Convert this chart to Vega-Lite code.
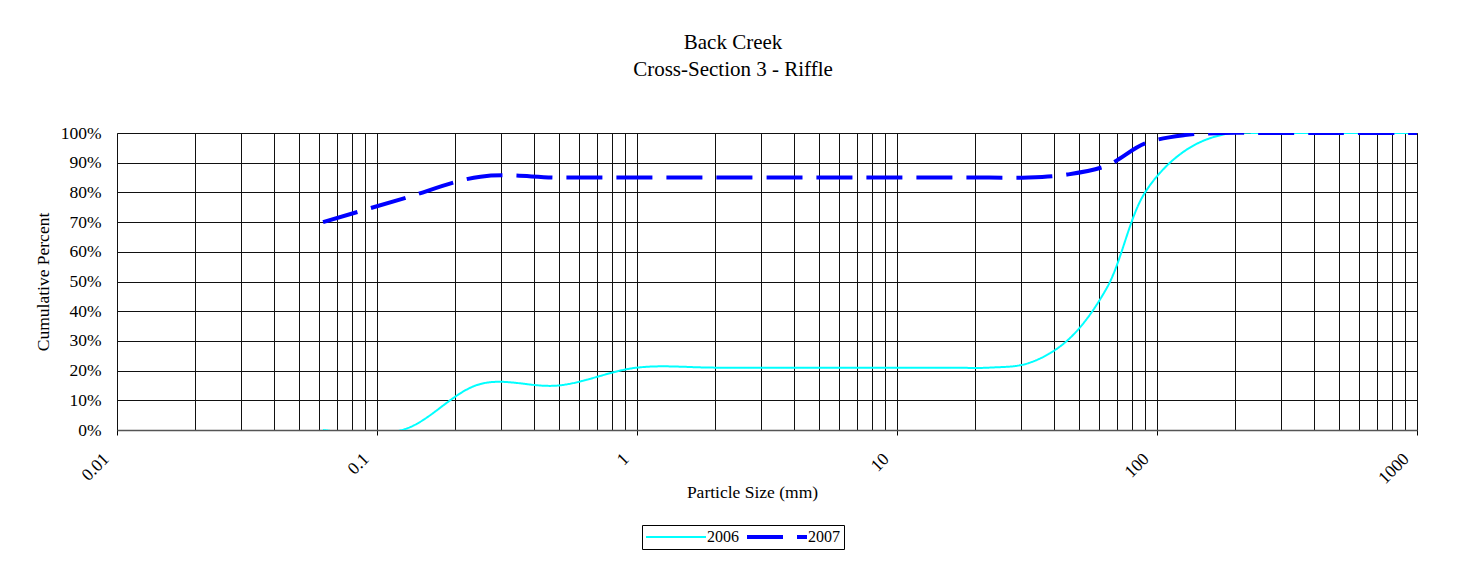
{
  "$schema": "https://vega.github.io/schema/vega-lite/v6.json",
  "width": 1300,
  "height": 297,
  "autosize": {"type": "none"},
  "padding": {"left": 117, "top": 133, "right": 42, "bottom": 139},
  "background": "white",
  "config": {
    "font": "Liberation Serif",
    "view": {"stroke": "#888888", "strokeWidth": 1}
  },
  "title": {
    "text": ["Back Creek", "Cross-Section 3 - Riffle"],
    "fontSize": 21,
    "fontWeight": "normal",
    "lineHeight": 27,
    "dx": -34,
    "offset": 44,
    "anchor": "middle",
    "color": "black",
    "font": "Liberation Serif"
  },
  "data": {
    "values": [
      {"year": "2006", "size": 0.062, "pct": 0},
      {"year": "2006", "size": 0.125, "pct": 0},
      {"year": "2006", "size": 0.25, "pct": 0.155},
      {"year": "2006", "size": 0.5, "pct": 0.15},
      {"year": "2006", "size": 1, "pct": 0.21},
      {"year": "2006", "size": 2, "pct": 0.21},
      {"year": "2006", "size": 4, "pct": 0.21},
      {"year": "2006", "size": 5.7, "pct": 0.21},
      {"year": "2006", "size": 8, "pct": 0.21},
      {"year": "2006", "size": 11.3, "pct": 0.21},
      {"year": "2006", "size": 16, "pct": 0.21},
      {"year": "2006", "size": 22.6, "pct": 0.21},
      {"year": "2006", "size": 32, "pct": 0.225},
      {"year": "2006", "size": 45, "pct": 0.30},
      {"year": "2006", "size": 64, "pct": 0.477},
      {"year": "2006", "size": 90, "pct": 0.80},
      {"year": "2006", "size": 128, "pct": 0.94},
      {"year": "2006", "size": 180, "pct": 0.995},
      {"year": "2006", "size": 256, "pct": 1},
      {"year": "2006", "size": 362, "pct": 1},
      {"year": "2006", "size": 512, "pct": 1},
      {"year": "2006", "size": 1000, "pct": 1},
      {"year": "2007", "size": 0.062, "pct": 0.70},
      {"year": "2007", "size": 0.125, "pct": 0.778},
      {"year": "2007", "size": 0.25, "pct": 0.853},
      {"year": "2007", "size": 0.5, "pct": 0.85},
      {"year": "2007", "size": 1, "pct": 0.85},
      {"year": "2007", "size": 2, "pct": 0.85},
      {"year": "2007", "size": 4, "pct": 0.85},
      {"year": "2007", "size": 5.7, "pct": 0.85},
      {"year": "2007", "size": 8, "pct": 0.85},
      {"year": "2007", "size": 11.3, "pct": 0.85},
      {"year": "2007", "size": 16, "pct": 0.85},
      {"year": "2007", "size": 22.6, "pct": 0.85},
      {"year": "2007", "size": 32, "pct": 0.85},
      {"year": "2007", "size": 45, "pct": 0.86},
      {"year": "2007", "size": 64, "pct": 0.89},
      {"year": "2007", "size": 90, "pct": 0.965},
      {"year": "2007", "size": 128, "pct": 0.993},
      {"year": "2007", "size": 180, "pct": 1},
      {"year": "2007", "size": 256, "pct": 1},
      {"year": "2007", "size": 362, "pct": 1},
      {"year": "2007", "size": 512, "pct": 1},
      {"year": "2007", "size": 1000, "pct": 1}
    ]
  },
  "mark": {"type": "line", "interpolate": "catmull-rom", "clip": true},
  "encoding": {
    "x": {
      "field": "size",
      "type": "quantitative",
      "scale": {"type": "log", "domain": [0.01, 1000], "nice": false},
      "axis": {
        "values": [0.01,0.02,0.03,0.04,0.05,0.06,0.07,0.08,0.09,0.1,0.2,0.3,0.4,0.5,0.6,0.7,0.8,0.9,1,2,3,4,5,6,7,8,9,10,20,30,40,50,60,70,80,90,100,200,300,400,500,600,700,800,900,1000],
        "labelExpr": "indexof([0.01,0.1,1,10,100,1000], datum.value) >= 0 ? format(datum.value, '~g') : ''",
        "labelOverlap": false,
        "labelAngle": -45,
        "labelAlign": "right",
        "labelBaseline": "middle",
        "labelFontSize": 17.5,
        "labelColor": "black",
        "labelPadding": 21,
        "labelOffset": -11,
        "tickSize": 5,
        "tickColor": "black",
        "tickOpacity": {"condition": {"test": "indexof([0.01,0.1,1,10,100,1000], datum.value) >= 0", "value": 1}, "value": 0},
        "grid": true,
        "gridColor": "#111111",
        "gridWidth": 1,
        "domainColor": "#555555",
        "domainWidth": 1.5,
        "title": "Particle Size (mm)",
        "titleFontSize": 17.5,
        "titleFontWeight": "normal",
        "titleColor": "black",
        "titleX": 635,
        "titleY": 62,
        "titleBaseline": "middle"
      }
    },
    "y": {
      "field": "pct",
      "type": "quantitative",
      "scale": {"domain": [0, 1], "nice": false},
      "axis": {
        "values": [0,0.1,0.2,0.3,0.4,0.5,0.6,0.7,0.8,0.9,1],
        "format": ".0%",
        "labelFontSize": 17.5,
        "labelColor": "black",
        "labelPadding": 16,
        "ticks": false,
        "domain": false,
        "grid": true,
        "gridColor": "#111111",
        "gridWidth": 1,
        "title": "Cumulative Percent",
        "titleFontSize": 17.5,
        "titleFontWeight": "normal",
        "titleColor": "black",
        "titlePadding": 8
      }
    },
    "color": {
      "field": "year",
      "type": "ordinal",
      "scale": {"domain": ["2006", "2007"], "range": ["#00FFFF", "#0000FF"]},
      "legend": {
        "orient": "none",
        "legendX": 525,
        "legendY": 392,
        "direction": "horizontal",
        "title": null,
        "strokeColor": "black",
        "fillColor": "white",
        "padding": 4,
        "symbolType": "M-6,0H6",
        "symbolSize": 100,
        "symbolOffset": 22,
        "labelOffset": 23,
        "labelFontSize": 16,
        "labelColor": "black",
        "columnPadding": 0
      }
    },
    "strokeDash": {
      "field": "year",
      "type": "ordinal",
      "scale": {"domain": ["2006", "2007"], "range": [[1, 0], [36, 14]]}
    },
    "strokeWidth": {
      "field": "year",
      "type": "ordinal",
      "scale": {"domain": ["2006", "2007"], "range": [2, 4]}
    }
  }
}
